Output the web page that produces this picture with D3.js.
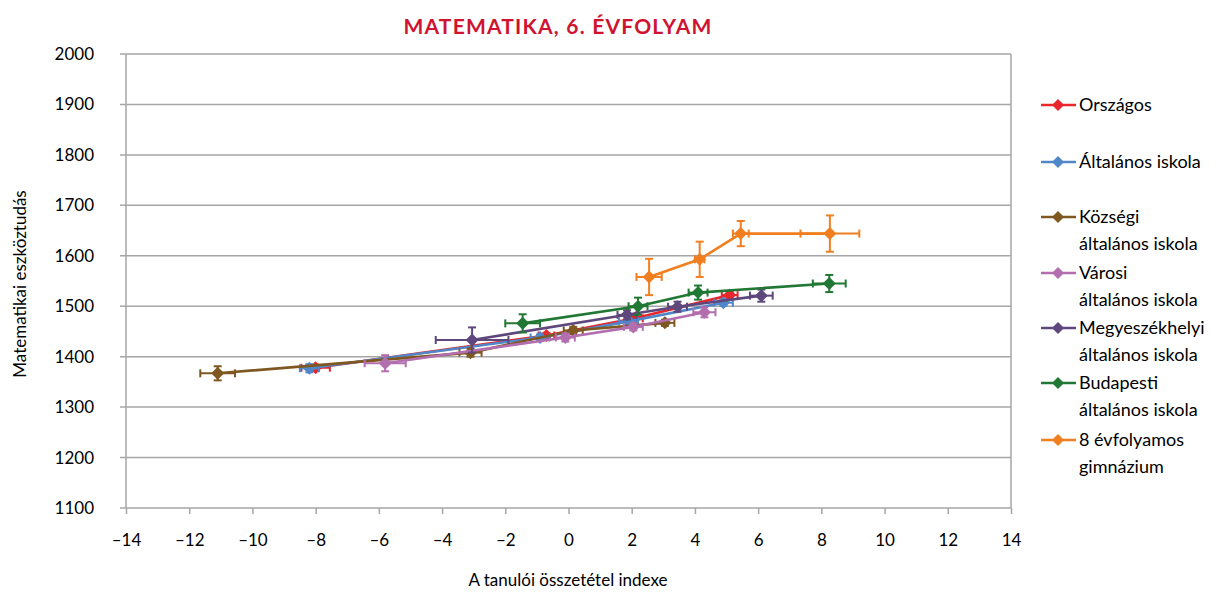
<!DOCTYPE html>
<html><head><meta charset="utf-8">
<script src="https://cdn.jsdelivr.net/npm/d3@7"></script>
<style>
html,body{margin:0;padding:0;background:#fff;}
text{font-family:Lato,"Open Sans",sans-serif;}
</style></head>
<body><svg id="c" width="1216" height="592"></svg>
<script>
// ---- data ----
const seriesNames = ["Országos","Általános iskola","Községi általános iskola","Városi általános iskola","Megyeszékhelyi általános iskola","Budapesti általános iskola","8 évfolyamos gimnázium"];
const legendLines = [["Országos"],["Általános iskola"],["Községi","általános iskola"],["Városi","általános iskola"],["Megyeszékhelyi","általános iskola"],["Budapesti","általános iskola"],["8 évfolyamos","gimnázium"]];
const seriesColors = ["#e8262b","#4f87c9","#7f5721","#b26eaf","#5e477c","#217834","#f27f1f"];

const orszagosX = [-8.0,-0.7,2.1,5.1];
const orszagosY = [1378,1442,1476,1522];
const orszagosXErr = [0.45,0.25,0.25,0.25];
const orszagosYErr = [6,5,5,6];

const altalanosX = [-8.2,-0.9,1.9,4.9];
const altalanosY = [1377,1438,1470,1507];
const altalanosXErr = [0.3,0.3,0.3,0.3];
const altalanosYErr = [8,6,6,6];

const kozsegiX = [-11.1,-3.1,0.15,3.05];
const kozsegiY = [1367,1408,1452,1467];
const kozsegiXErr = [0.55,0.35,0.3,0.3];
const kozsegiYErr = [14,8,7,6];

const varosiX = [-5.8,-0.1,2.05,4.3];
const varosiY = [1387,1438,1459,1488];
const varosiXErr = [0.65,0.3,0.3,0.35];
const varosiYErr = [16,8,7,10];

const megyeX = [-3.05,1.85,3.45,6.1];
const megyeY = [1433,1483,1499,1521];
const megyeXErr = [1.15,0.3,0.3,0.36];
const megyeYErr = [25,9,10,12];

const budapestX = [-1.45,2.2,4.1,8.25];
const budapestY = [1466,1500,1527,1545];
const budapestXErr = [0.55,0.3,0.3,0.52];
const budapestYErr = [18,17,14,17];

const gimnX = [2.55,4.15,5.45,8.27];
const gimnY = [1558,1593,1644,1644];
const gimnXErr = [0.4,0.15,0.25,0.93];
const gimnYErr = [36,35,25,36];

const xTicks = [-14,-12,-10,-8,-6,-4,-2,0,2,4,6,8,10,12,14];
const yTicks = [1100,1200,1300,1400,1500,1600,1700,1800,1900,2000];

const title = "MATEMATIKA, 6. ÉVFOLYAM";
const xTitle = "A tanulói összetétel indexe";
const yTitle = "Matematikai eszköztudás";

const allX = [orszagosX,altalanosX,kozsegiX,varosiX,megyeX,budapestX,gimnX];
const allY = [orszagosY,altalanosY,kozsegiY,varosiY,megyeY,budapestY,gimnY];
const allXE = [orszagosXErr,altalanosXErr,kozsegiXErr,varosiXErr,megyeXErr,budapestXErr,gimnXErr];
const allYE = [orszagosYErr,altalanosYErr,kozsegiYErr,varosiYErr,megyeYErr,budapestYErr,gimnYErr];

// ---- chart ----
const svg = d3.select("#c");
const x = d3.scaleLinear().domain([-14,14]).range([126,1011]);
const y = d3.scaleLinear().domain([1100,2000]).range([508,54]);
const grid = "#a6a6a6";

svg.append("g").selectAll("line").data(yTicks).join("line")
  .attr("x1",120).attr("x2",1011)
  .attr("y1",d=>y(d)).attr("y2",d=>y(d))
  .attr("stroke",grid).attr("stroke-width",1.5);
svg.append("line").attr("x1",x(-14)).attr("x2",x(-14)).attr("y1",y(2000)).attr("y2",y(1100)).attr("stroke",grid).attr("stroke-width",1.5);
svg.append("line").attr("x1",x(14)).attr("x2",x(14)).attr("y1",y(2000)).attr("y2",y(1100)).attr("stroke",grid).attr("stroke-width",1.5);

const xAxis = d3.axisBottom(x).tickValues(xTicks).tickSize(6).tickPadding(20)
  .tickFormat(d=> d<0 ? "\u2013"+Math.abs(d) : String(d));
const gx = svg.append("g").attr("transform",`translate(0,${y(1100)})`).call(xAxis);
gx.select(".domain").remove();
gx.selectAll(".tick line").attr("stroke",grid).attr("stroke-width",1.5);
gx.selectAll(".tick text").attr("font-size",17).attr("fill","#000");

const yAxis = d3.axisLeft(y).tickValues(yTicks).tickSize(0).tickPadding(0).tickFormat(d3.format("d"));
const gy = svg.append("g").attr("transform","translate(94,0)").call(yAxis);
gy.select(".domain").remove();
gy.selectAll(".tick text").attr("font-size",17).attr("fill","#000");

svg.append("text").attr("x",558).attr("y",34).attr("text-anchor","middle")
  .attr("font-size",21).attr("font-weight","bold").attr("letter-spacing",1.2).attr("fill","#cf1330").text(title);
svg.append("text").attr("x",568).attr("y",586).attr("text-anchor","middle")
  .attr("font-size",17).attr("fill","#000").text(xTitle);
svg.append("text").attr("transform","translate(26,284) rotate(-90)").attr("text-anchor","middle")
  .attr("font-size",17).attr("fill","#000").text(yTitle);

const line = d3.line().x(d=>x(d[0])).y(d=>y(d[1]));
const diamond = (cx,cy,r)=>`M${cx},${cy-r}L${cx+r},${cy}L${cx},${cy+r}L${cx-r},${cy}Z`;
const cap = 4;

seriesNames.forEach((name,i)=>{
  const col = seriesColors[i];
  const pts = allX[i].map((v,j)=>[v,allY[i][j],allXE[i][j],allYE[i][j]]);
  const g = svg.append("g");
  g.append("path").attr("d",line(pts)).attr("fill","none").attr("stroke",col).attr("stroke-width",2.6).attr("stroke-linejoin","round");
  pts.forEach(p=>{
    const cx=x(p[0]), cy=y(p[1]);
    const x1=x(p[0]-p[2]), x2=x(p[0]+p[2]);
    const y1=y(p[1]+p[3]), y2=y(p[1]-p[3]);
    const eb = g.append("g").attr("stroke",col).attr("stroke-width",2);
    eb.append("line").attr("x1",x1).attr("x2",x2).attr("y1",cy).attr("y2",cy);
    eb.append("line").attr("x1",x1).attr("x2",x1).attr("y1",cy-cap).attr("y2",cy+cap);
    eb.append("line").attr("x1",x2).attr("x2",x2).attr("y1",cy-cap).attr("y2",cy+cap);
    eb.append("line").attr("x1",cx).attr("x2",cx).attr("y1",y1).attr("y2",y2);
    eb.append("line").attr("x1",cx-cap).attr("x2",cx+cap).attr("y1",y1).attr("y2",y1);
    eb.append("line").attr("x1",cx-cap).attr("x2",cx+cap).attr("y1",y2).attr("y2",y2);
    g.append("path").attr("d",diamond(cx,cy,6.5)).attr("fill",col);
  });
});

const legendY = [105,162,217,273,328,383,440];
const lg = svg.append("g");
legendLines.forEach((lines,i)=>{
  const ly = legendY[i];
  lg.append("line").attr("x1",1041).attr("x2",1076).attr("y1",ly).attr("y2",ly).attr("stroke",seriesColors[i]).attr("stroke-width",2.6);
  lg.append("path").attr("d",diamond(1058,ly,6)).attr("fill",seriesColors[i]);
  lines.forEach((t,k)=>{
    lg.append("text").attr("x",1079).attr("y",ly+6+k*26.5).attr("font-size",18).attr("fill","#000").text(t);
  });
});
</script>
</body></html>
